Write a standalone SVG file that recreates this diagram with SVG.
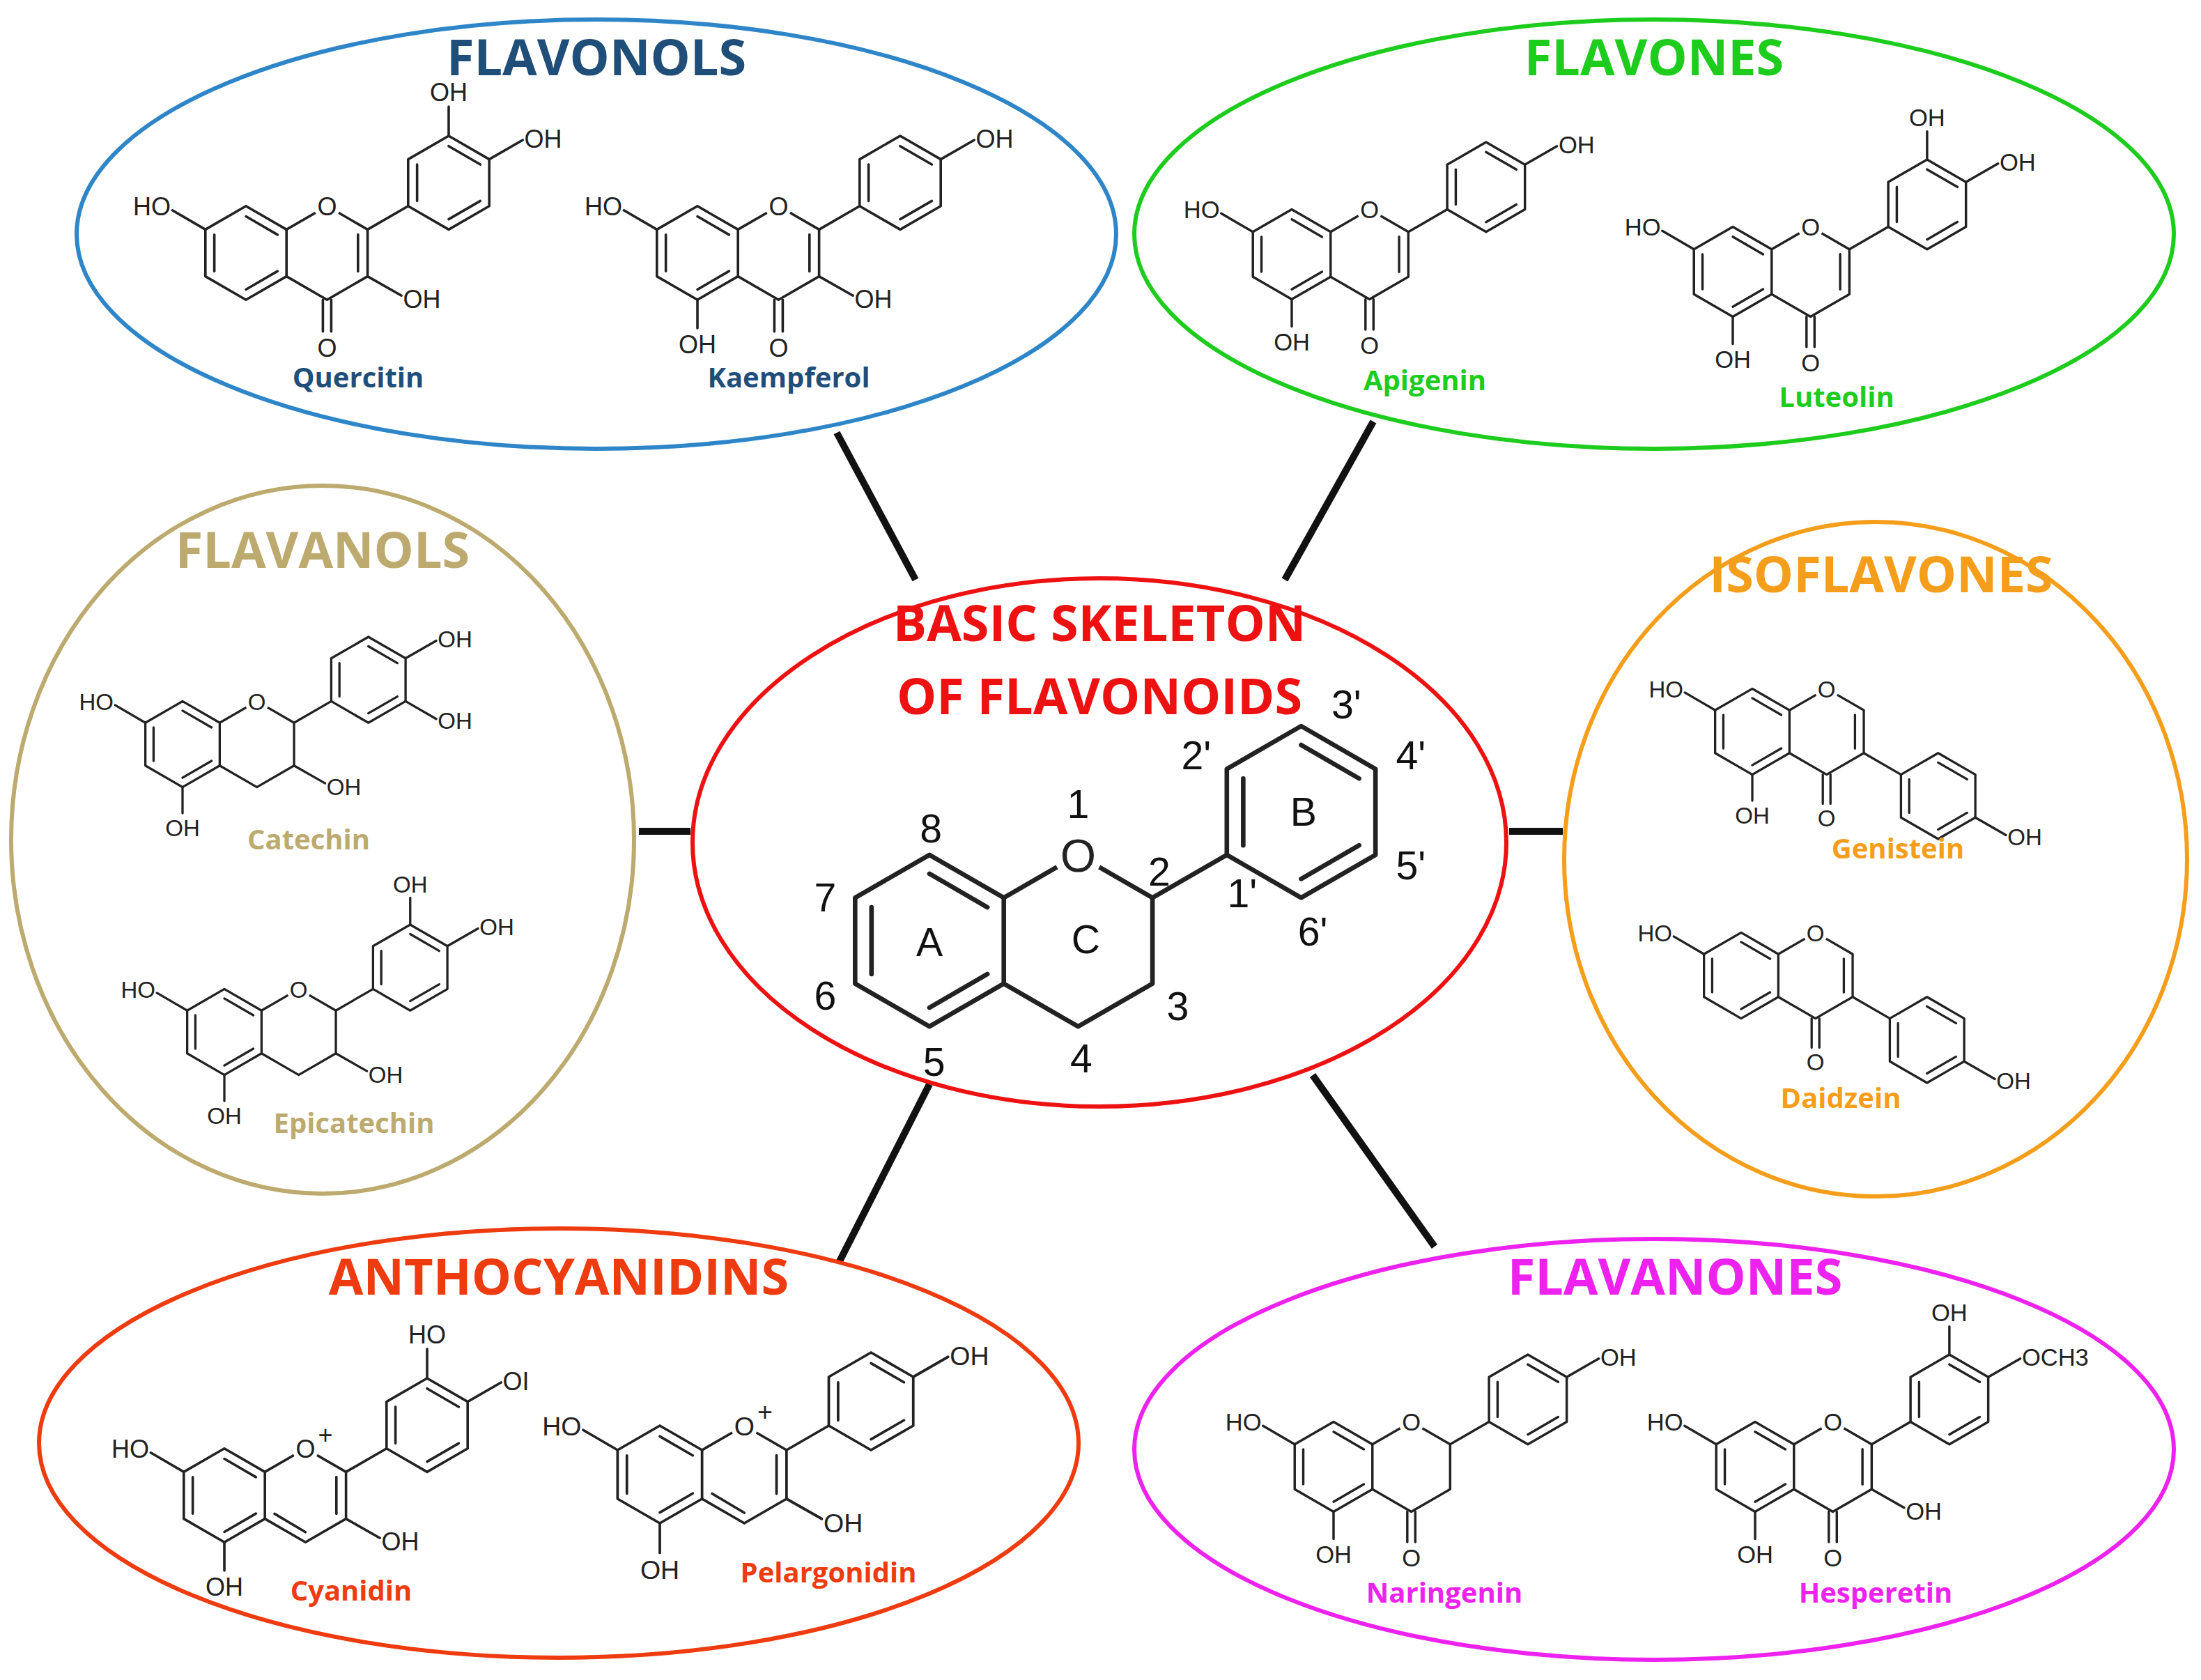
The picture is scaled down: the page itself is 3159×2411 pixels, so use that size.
<svg xmlns="http://www.w3.org/2000/svg" xmlns:xlink="http://www.w3.org/1999/xlink" width="3159" height="2411" viewBox="0 0 3159 2411">
<style>
.b{fill:none;stroke:#222;stroke-width:3;stroke-linecap:round;stroke-linejoin:round}
.at{font-family:"Liberation Sans",Arial,sans-serif;font-size:30px;fill:#222}
.tt{font-family:"Open Sans","Liberation Sans",sans-serif;font-weight:bold;font-size:72px;text-anchor:middle}
.lb{font-family:"Open Sans","Liberation Sans",sans-serif;font-weight:bold;font-size:40px;text-anchor:middle}
.el{fill:#fff;stroke-width:6}
.cn{stroke:#111;stroke-width:10}
.num{font-family:"Liberation Sans",Arial,sans-serif;font-size:26px;fill:#111;text-anchor:middle}
</style>
<defs>
<g id="ar"><polygon class="b" points="0,-56 48.5,-28 48.5,28 0,56 -48.5,28 -48.5,-28"/><path class="b" d="M0,-43.7L37.8,-21.8M37.8,21.8L0,43.7M-37.8,21.8L-37.8,-21.8"/></g>
<g id="core"><use xlink:href="#ar"/><path class="b" d="M48.5,-28L97,-56L145.5,-28L145.5,28L97,56L48.5,28"/><circle cx="97" cy="-56" r="16" fill="#fff"/><text class="at" x="97" y="-45" text-anchor="middle">O</text></g>
<path id="c23" class="b" d="M134,-22L134,22"/>
<g id="co"><path class="b" d="M92,56L92,94M102,56L102,94"/><text class="at" x="97" y="124" text-anchor="middle">O</text></g>
<g id="bR"><path class="b" d="M145.5,-28L194,-56"/><use xlink:href="#ar" x="242.5" y="-84"/></g>
<g id="bI"><path class="b" d="M145.5,28L194,56"/><use xlink:href="#ar" x="242.5" y="84"/></g>
<g id="oh7"><path class="b" d="M-48.5,-28L-88,-51"/><text class="at" x="-90" y="-45" text-anchor="end">HO</text></g>
<g id="oh5"><path class="b" d="M0,56L0,90"/><text class="at" x="0" y="120" text-anchor="middle">OH</text></g>
<g id="oh3"><path class="b" d="M145.5,28L186,51"/><text class="at" x="188" y="66">OH</text></g>
<g id="oh4p"><path class="b" d="M291,-112L331,-135"/><text class="at" x="333" y="-126">OH</text></g>
<g id="oh3p"><path class="b" d="M242.5,-140L242.5,-175"/><text class="at" x="242.5" y="-182" text-anchor="middle">OH</text></g>
</defs>

<g id="connectors">
<line class="cn" x1="1201" y1="621" x2="1314" y2="832"/>
<line class="cn" x1="1971" y1="605" x2="1844" y2="832"/>
<line class="cn" x1="917" y1="1193" x2="991" y2="1193"/>
<line class="cn" x1="2166" y1="1193" x2="2243" y2="1193"/>
<line class="cn" x1="1334" y1="1556" x2="1203" y2="1814"/>
<line class="cn" x1="1884" y1="1543" x2="2059" y2="1789"/>
</g>

<g id="flavonols">
<ellipse class="el" cx="856" cy="336" rx="746" ry="308" stroke="#2E86C8"/>
<text class="tt" x="856" y="108" fill="#1F4E79">FLAVONOLS</text>
<g transform="translate(353,363) scale(1.2)"><use xlink:href="#core"/><use xlink:href="#c23"/><use xlink:href="#co"/><use xlink:href="#bR"/><use xlink:href="#oh7"/><use xlink:href="#oh3"/><use xlink:href="#oh4p"/><use xlink:href="#oh3p"/></g>
<text class="lb" x="514" y="556" fill="#1F4E79">Quercitin</text>
<g transform="translate(1001,363) scale(1.2)"><use xlink:href="#core"/><use xlink:href="#c23"/><use xlink:href="#co"/><use xlink:href="#bR"/><use xlink:href="#oh7"/><use xlink:href="#oh5"/><use xlink:href="#oh3"/><use xlink:href="#oh4p"/></g>
<text class="lb" x="1132" y="556" fill="#1F4E79">Kaempferol</text>
</g>

<g id="flavones">
<ellipse class="el" cx="2374" cy="336" rx="746" ry="308" stroke="#1ECC1E"/>
<text class="tt" x="2374" y="108" fill="#1ECC1E">FLAVONES</text>
<g transform="translate(1854,365) scale(1.15)"><use xlink:href="#core"/><use xlink:href="#c23"/><use xlink:href="#co"/><use xlink:href="#bR"/><use xlink:href="#oh7"/><use xlink:href="#oh5"/><use xlink:href="#oh4p"/></g>
<text class="lb" x="2045" y="560" fill="#1ECC1E">Apigenin</text>
<g transform="translate(2487,390) scale(1.15)"><use xlink:href="#core"/><use xlink:href="#c23"/><use xlink:href="#co"/><use xlink:href="#bR"/><use xlink:href="#oh7"/><use xlink:href="#oh5"/><use xlink:href="#oh4p"/><use xlink:href="#oh3p"/></g>
<text class="lb" x="2636" y="584" fill="#1ECC1E">Luteolin</text>
</g>

<g id="flavanols">
<ellipse class="el" cx="463" cy="1205" rx="447" ry="508" stroke="#BCAA6E"/>
<text class="tt" x="463" y="815" fill="#BCAA6E">FLAVANOLS</text>
<g transform="translate(262,1068) scale(1.1)"><use xlink:href="#core"/><use xlink:href="#bR"/><use xlink:href="#oh7"/><use xlink:href="#oh5"/><use xlink:href="#oh3"/><use xlink:href="#oh4p"/><path class="b" d="M291,-56L331,-33"/><text class="at" x="333" y="-20">OH</text></g>
<text class="lb" x="443" y="1219" fill="#BCAA6E">Catechin</text>
<g transform="translate(322,1481) scale(1.1)"><use xlink:href="#core"/><use xlink:href="#bR"/><use xlink:href="#oh7"/><use xlink:href="#oh5"/><use xlink:href="#oh3"/><use xlink:href="#oh4p"/><use xlink:href="#oh3p"/></g>
<text class="lb" x="508" y="1626" fill="#BCAA6E">Epicatechin</text>
</g>

<g id="skeleton">
<ellipse class="el" cx="1578" cy="1209" rx="584" ry="379" stroke="#EE1111"/>
<text class="tt" x="1578" y="920" fill="#EE1111">BASIC SKELETON</text>
<text class="tt" x="1578" y="1025" fill="#EE1111">OF FLAVONOIDS</text>
<g transform="translate(1334,1350) scale(2.2)">
<use xlink:href="#core"/><use xlink:href="#bR"/>
<text class="num" x="1" y="-64">8</text><text class="num" x="97" y="-80">1</text><text class="num" x="-68" y="-19">7</text><text class="num" x="-68" y="45">6</text><text class="num" x="3" y="88">5</text><text class="num" x="99" y="86">4</text><text class="num" x="162" y="52">3</text><text class="num" x="150" y="-36">2</text><text class="num" x="0" y="10">A</text><text class="num" x="102" y="8">C</text><text class="num" x="244" y="-75">B</text><text class="num" x="204" y="-22">1'</text><text class="num" x="174" y="-112">2'</text><text class="num" x="272" y="-145">3'</text><text class="num" x="314" y="-112">4'</text><text class="num" x="314" y="-40">5'</text><text class="num" x="250" y="3">6'</text>
</g>
</g>

<g id="isoflavones">
<ellipse class="el" cx="2692" cy="1233" rx="447" ry="484" stroke="#F59E1B"/>
<text class="tt" x="2700" y="850" fill="#F59E1B">ISOFLAVONES</text>
<g transform="translate(2515,1050) scale(1.1)"><use xlink:href="#core"/><use xlink:href="#c23"/><use xlink:href="#co"/><use xlink:href="#bI"/><use xlink:href="#oh7"/><use xlink:href="#oh5"/><path class="b" d="M291,112L331,135"/><text class="at" x="333" y="148">OH</text></g>
<text class="lb" x="2724" y="1232" fill="#F59E1B">Genistein</text>
<g transform="translate(2499,1400) scale(1.1)"><use xlink:href="#core"/><use xlink:href="#c23"/><use xlink:href="#co"/><use xlink:href="#bI"/><use xlink:href="#oh7"/><path class="b" d="M291,112L331,135"/><text class="at" x="333" y="148">OH</text></g>
<text class="lb" x="2642" y="1590" fill="#F59E1B">Daidzein</text>
</g>

<g id="anthocyanidins">
<ellipse class="el" cx="802" cy="2071" rx="746" ry="308" stroke="#EE3B0F"/>
<text class="tt" x="802" y="1858" fill="#EE3B0F">ANTHOCYANIDINS</text>
<g transform="translate(322,2146) scale(1.2)"><use xlink:href="#core"/><use xlink:href="#c23"/><path class="b" d="M97,44L60,22"/><text class="at" x="112" y="-62" font-size="20">+</text><use xlink:href="#bR"/><use xlink:href="#oh7"/><use xlink:href="#oh5"/><use xlink:href="#oh3"/><path class="b" d="M291,-112L331,-135"/><text class="at" x="333" y="-126">OI</text><path class="b" d="M242.5,-140L242.5,-175"/><text class="at" x="242.5" y="-182" text-anchor="middle">HO</text></g>
<text class="lb" x="504" y="2297" fill="#EE3B0F">Cyanidin</text>
<g transform="translate(947,2116) scale(1.25)"><use xlink:href="#core"/><use xlink:href="#c23"/><path class="b" d="M97,44L60,22"/><text class="at" x="112" y="-62" font-size="20">+</text><use xlink:href="#bR"/><use xlink:href="#oh7"/><use xlink:href="#oh5"/><use xlink:href="#oh3"/><use xlink:href="#oh4p"/></g>
<text class="lb" x="1189" y="2271" fill="#EE3B0F">Pelargonidin</text>
</g>

<g id="flavanones">
<ellipse class="el" cx="2374" cy="2080" rx="746" ry="302" stroke="#EE22EE"/>
<text class="tt" x="2404" y="1858" fill="#EE22EE">FLAVANONES</text>
<g transform="translate(1914,2105) scale(1.15)"><use xlink:href="#core"/><use xlink:href="#co"/><use xlink:href="#bR"/><use xlink:href="#oh7"/><use xlink:href="#oh5"/><use xlink:href="#oh4p"/></g>
<text class="lb" x="2073" y="2300" fill="#EE22EE">Naringenin</text>
<g transform="translate(2519,2105) scale(1.15)"><use xlink:href="#core"/><use xlink:href="#c23"/><use xlink:href="#co"/><use xlink:href="#bR"/><use xlink:href="#oh7"/><use xlink:href="#oh5"/><use xlink:href="#oh3"/><use xlink:href="#oh3p"/><path class="b" d="M291,-112L331,-135"/><text class="at" x="333" y="-126">OCH3</text></g>
<text class="lb" x="2692" y="2300" fill="#EE22EE">Hesperetin</text>
</g>
</svg>
